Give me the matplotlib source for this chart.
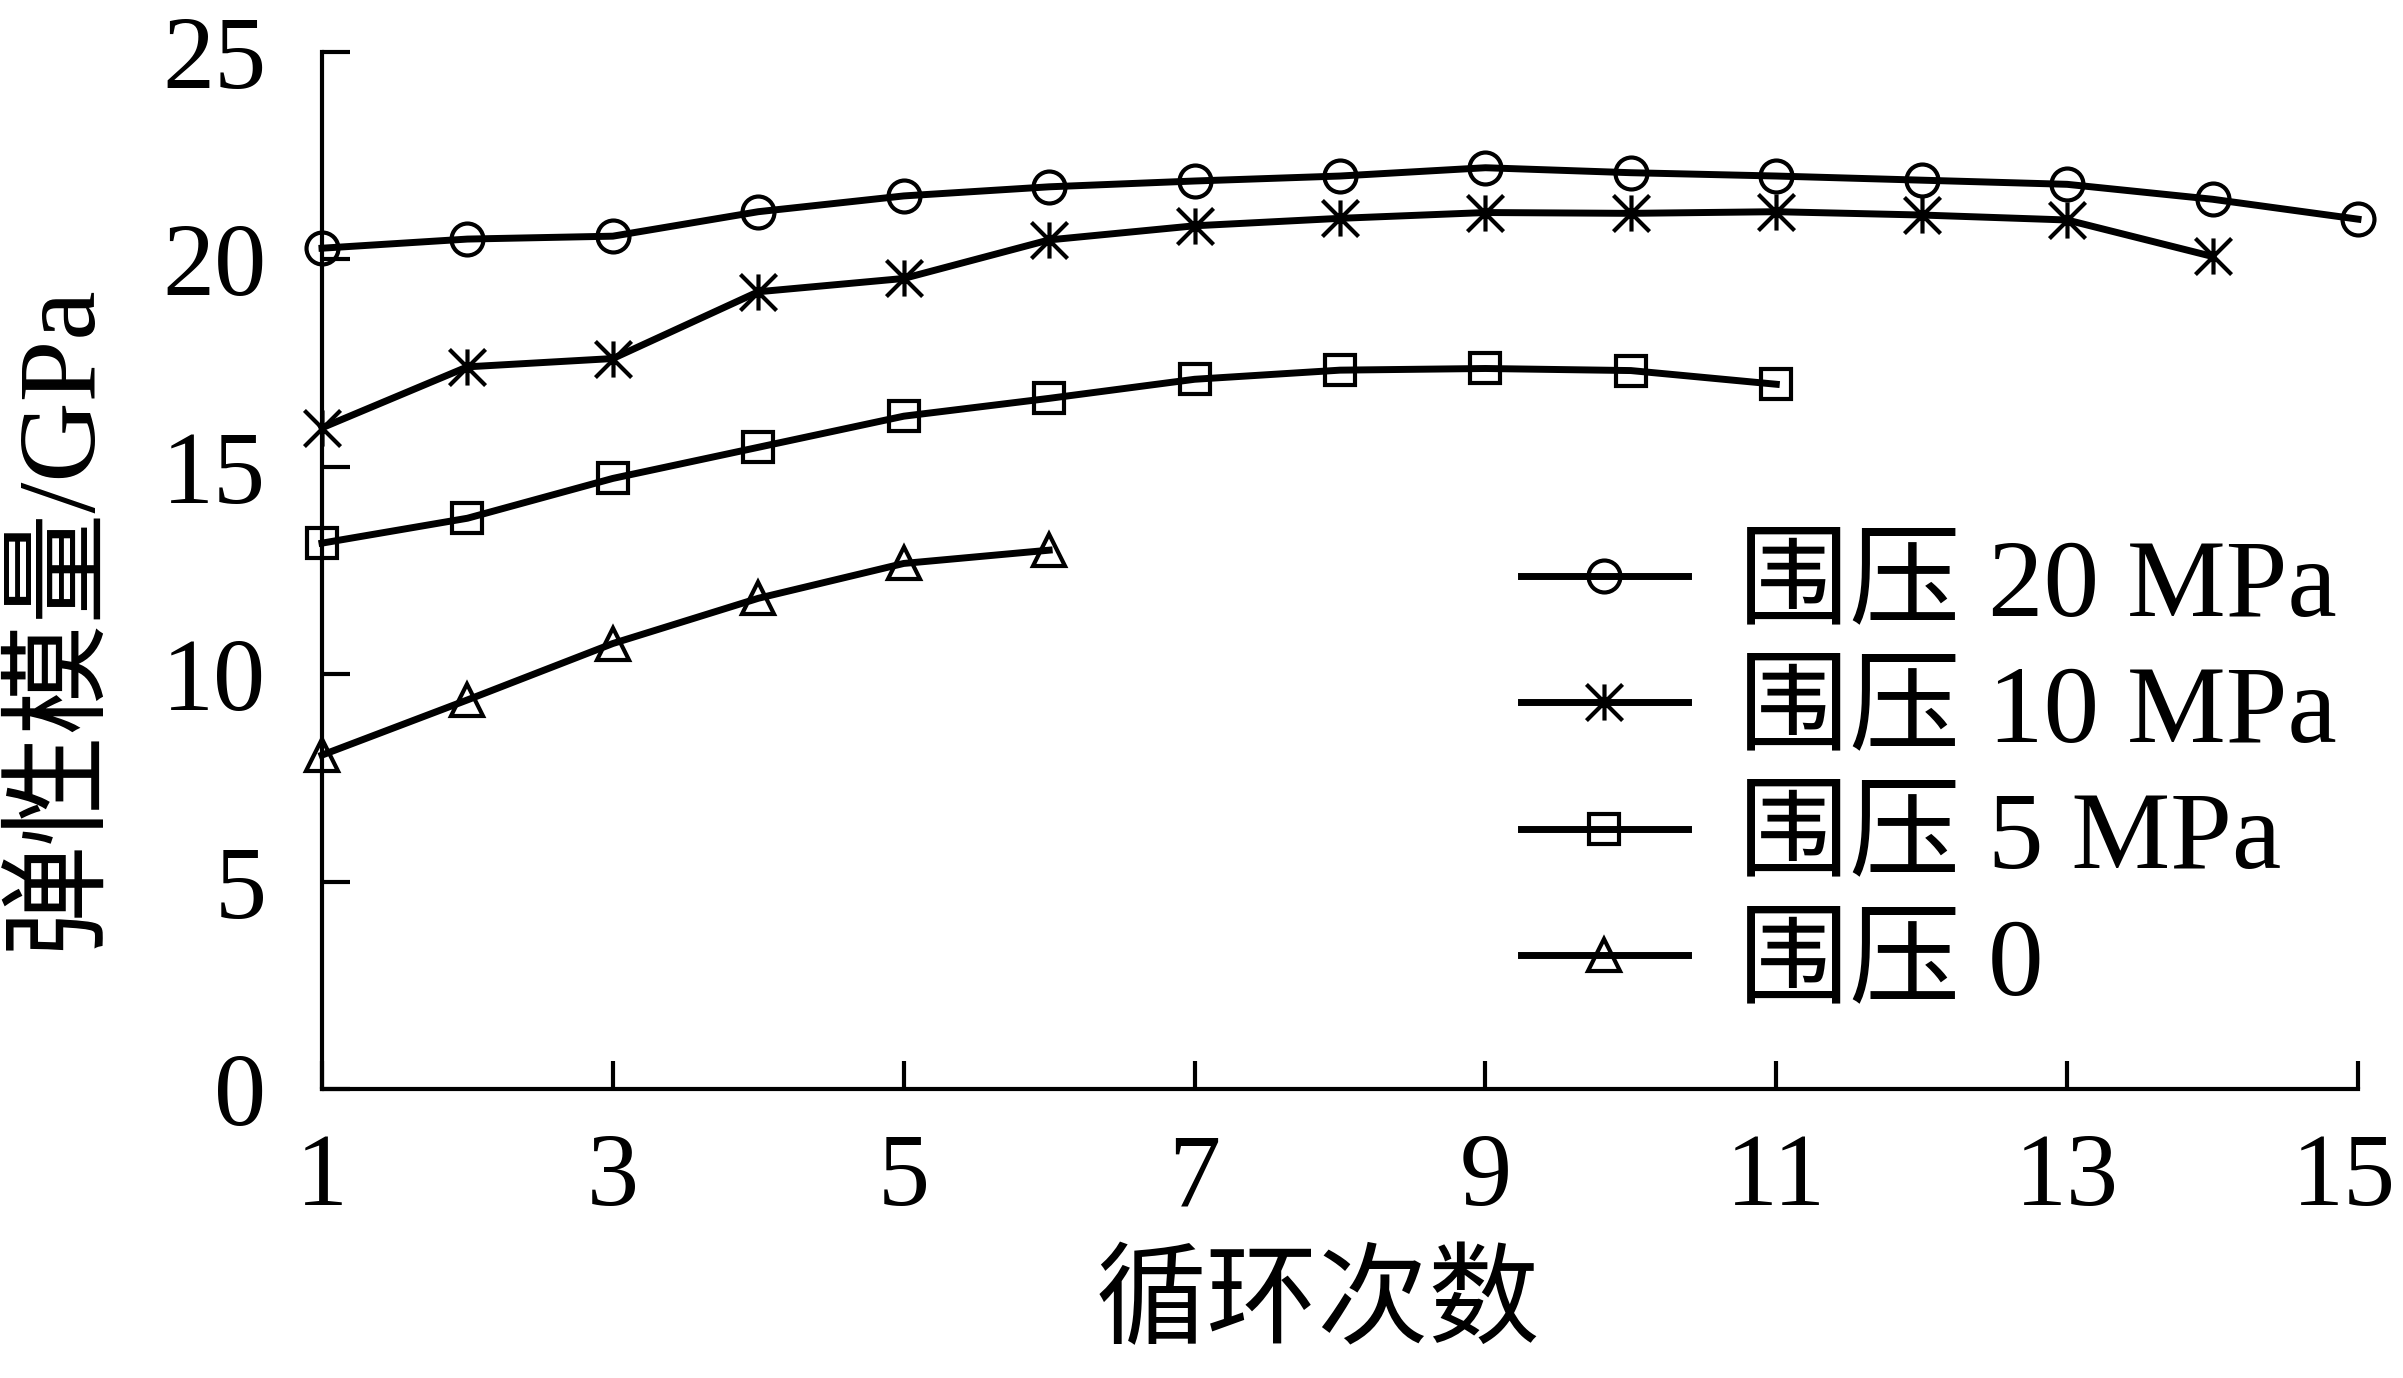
import matplotlib
matplotlib.use("Agg")
import matplotlib.pyplot as plt
from matplotlib.path import Path
from matplotlib.transforms import ScaledTranslation

plt.rcParams['font.family'] = ['Liberation Serif', 'Noto Sans CJK SC']
plt.rcParams['axes.unicode_minus'] = False

# ---- data ----
cycles_20 = [1, 2, 3, 4, 5, 6, 7, 8, 9, 10, 11, 12, 13, 14, 15]
modulus_20 = [20.27, 20.49, 20.56, 21.15, 21.53, 21.75, 21.89, 22.01, 22.21, 22.09, 22.01, 21.91, 21.81, 21.45, 20.97]

cycles_10 = [1, 2, 3, 4, 5, 6, 7, 8, 9, 10, 11, 12, 13, 14]
modulus_10 = [15.94, 17.41, 17.61, 19.22, 19.54, 20.47, 20.81, 20.99, 21.13, 21.11, 21.15, 21.07, 20.95, 20.07]

cycles_5 = [1, 2, 3, 4, 5, 6, 7, 8, 9, 10, 11]
modulus_5 = [13.16, 13.76, 14.72, 15.47, 16.22, 16.65, 17.11, 17.33, 17.37, 17.32, 16.99]

cycles_0 = [1, 2, 3, 4, 5, 6]
modulus_0 = [8.05, 9.38, 10.74, 11.83, 12.67, 12.99]

labels = ['围压 20 MPa', '围压 10 MPa', '围压 5 MPa', '围压 0']
x_ticks = [1, 3, 5, 7, 9, 11, 13, 15]
y_ticks = [0, 5, 10, 15, 20, 25]
x_label = '循环次数'
y_label = '弹性模量/GPa'

# asterisk marker: vertical bar plus X
star = Path([(0, -1), (0, 1), (-1, -1), (1, 1), (-1, 1), (1, -1)],
            [Path.MOVETO, Path.LINETO, Path.MOVETO, Path.LINETO, Path.MOVETO, Path.LINETO])

W, H = 2403, 1378
fig = plt.figure(figsize=(W / 100, H / 100), dpi=100)
ax = fig.add_axes([322 / W, 1 - 1089 / H, (2358 - 322) / W, (1089 - 52) / H])

lw = 5.0
common = dict(color='black', linewidth=lw, markerfacecolor='none',
              markeredgecolor='black', clip_on=False)
series = [
    (cycles_20, modulus_20, 'o', 23, 3.0),
    (cycles_10, modulus_10, star, 26, 3.0),
    (cycles_5, modulus_5, 's', 22, 3.0),
    (cycles_0, modulus_0, '^', 23, 3.0),
]
handles = []
for (xs, ys, mk, ms, mew), lab in zip(series, labels):
    ln, = ax.plot(xs, ys, marker=mk, markersize=ms, markeredgewidth=mew,
                  label=lab, **common)
    handles.append(ln)

ax.set_xlim(1, 15)
ax.set_ylim(0, 25)
ax.set_xticks(x_ticks)
ax.set_yticks(y_ticks)
ax.set_xticklabels([str(v) for v in x_ticks])
ax.set_yticklabels([str(v) for v in y_ticks])

for s in ['top', 'right']:
    ax.spines[s].set_visible(False)
for s in ['left', 'bottom']:
    ax.spines[s].set_linewidth(3)

ax.tick_params(axis='both', direction='in', length=20, width=3,
               labelsize=75)
ax.tick_params(axis='x', pad=32)
ax.tick_params(axis='y', pad=40)

ax.set_xlabel(x_label, fontsize=80, va='center')
ax.xaxis.set_label_coords((1318 - 322) / 2036, (1089 - 1306) / 1037)
ax.set_ylabel(y_label, fontsize=80, va='center')
ax.yaxis.set_label_coords((60 - 322) / 2036, (1089 - 617) / 1037)

leg = ax.legend(handles=handles, loc='upper left',
                bbox_to_anchor=(1521 / W, 1 - 537 / H),
                bbox_transform=fig.transFigure, frameon=False,
                fontsize=80, borderpad=0, borderaxespad=0,
                handlelength=1.5, handletextpad=0.45, labelspacing=0.23)

# the last x tick label sits slightly left of its tick in the reference
fig.canvas.draw()
last_tick = ax.xaxis.get_major_ticks()[-1]
last_tick.label1.set_transform(last_tick.label1.get_transform()
                               + ScaledTranslation(-0.14, 0, fig.dpi_scale_trans))

fig.savefig('out.png', dpi=100, facecolor='white')
